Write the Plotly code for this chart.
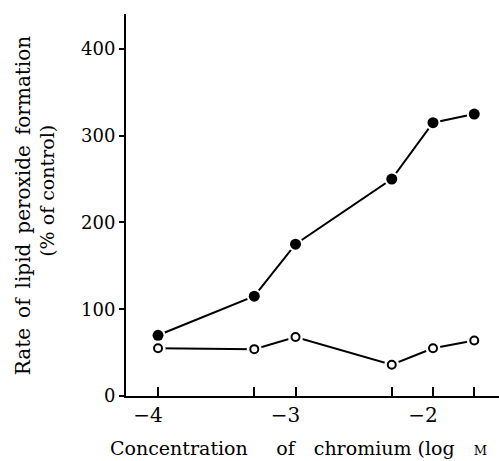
import plotly.graph_objects as go

# ---- data ----
log_conc = [-4.0, -3.3, -3.0, -2.3, -2.0, -1.7]
filled_values = [70, 115, 175, 250, 315, 325]
open_values = [55, 54, 68, 36, 55, 64]
x_tick_vals = [-4.0, -3.3, -3.0, -2.3, -2.0, -1.7]
x_tick_labels = ["−4", "", "−3", "", "−2", ""]
y_tick_vals = [0, 100, 200, 300, 400]
y_tick_labels = ["0", "100", "200", "300", "400"]

FONT = "DejaVu Serif"

fig = go.Figure()

def add_series(y, filled):
    fig.add_trace(go.Scatter(x=log_conc, y=y, mode="lines",
                             line=dict(color="black", width=2),
                             hoverinfo="skip", showlegend=False))
    fig.add_trace(go.Scatter(x=log_conc, y=y, mode="markers",
                             marker=dict(color="white", size=15, line=dict(width=0)),
                             hoverinfo="skip", showlegend=False))
    if filled:
        mk = dict(color="black", size=11, symbol="circle", line=dict(width=0))
    else:
        mk = dict(color="white", size=8, symbol="circle",
                  line=dict(color="black", width=2))
    fig.add_trace(go.Scatter(x=log_conc, y=y, mode="markers", marker=mk,
                             showlegend=False))

add_series(filled_values, True)
add_series(open_values, False)

padded_x_labels = [(t + "\u2003") if t else t for t in x_tick_labels]

fig.update_layout(
    width=499, height=461,
    margin=dict(l=126, r=0, t=14, b=65),
    paper_bgcolor="white", plot_bgcolor="white",
    font=dict(family=FONT, color="black", size=20),
    xaxis=dict(range=[-4.233, -1.52], showgrid=False, zeroline=False,
               showline=True, linecolor="black", linewidth=2,
               ticks="inside", ticklen=9, tickwidth=2, tickcolor="black",
               tickvals=x_tick_vals, ticktext=padded_x_labels,
               tickfont=dict(family=FONT, size=20)),
    yaxis=dict(range=[0, 440.3], showgrid=False, zeroline=False,
               showline=True, linecolor="black", linewidth=2,
               ticks="outside", ticklen=5, tickwidth=2, tickcolor="black",
               tickvals=y_tick_vals, ticktext=y_tick_labels,
               tickfont=dict(family=FONT, size=18)),
    annotations=[
        dict(text="Concentration\u2003\u2002of\u2003chromium (log\u2003<span style='font-size:13px'>M</span>",
             xref="paper", yref="paper", x=-0.048, y=0, xanchor="left", yanchor="top",
             yshift=-39, showarrow=False, font=dict(family=FONT, size=19)),
        dict(text="Rate\u2002of\u2002lipid\u2002peroxide\u2002formation",
             xref="paper", yref="paper", x=-0.276, y=0.497, xanchor="center", yanchor="middle",
             textangle=-90, showarrow=False, font=dict(family=FONT, size=20)),
        dict(text="(% of control)",
             xref="paper", yref="paper", x=-0.212, y=0.537, xanchor="center", yanchor="middle",
             textangle=-90, showarrow=False, font=dict(family=FONT, size=19)),
    ],
)

fig.write_html("out.html")
